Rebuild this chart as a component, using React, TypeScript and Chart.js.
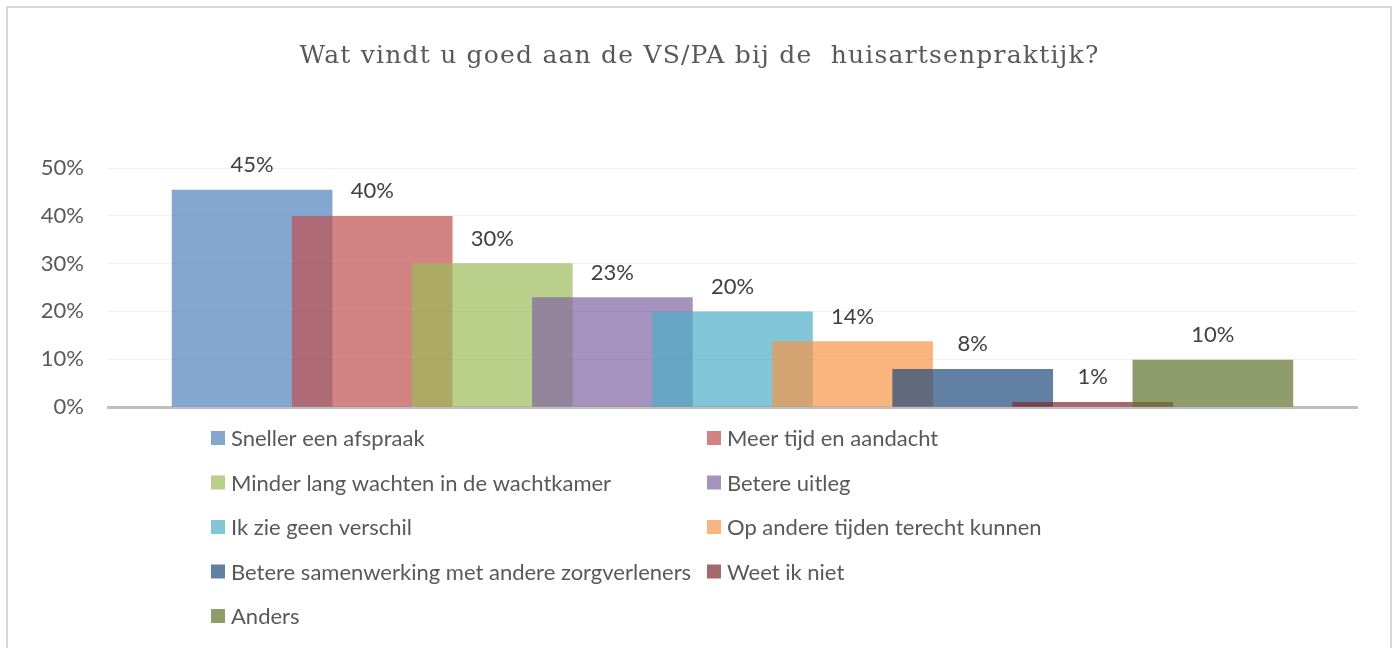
import React, { useEffect, useRef } from 'react';
import { Chart, registerables } from 'chart.js';

Chart.register(...registerables);

const TITLE = 'Wat vindt u goed aan de VS/PA bij de  huisartsenpraktijk?';

const seriesLabels = [
  'Sneller een afspraak',
  'Meer tijd en aandacht',
  'Minder lang wachten in de wachtkamer',
  'Betere uitleg',
  'Ik zie geen verschil',
  'Op andere tijden terecht kunnen',
  'Betere samenwerking met andere zorgverleners',
  'Weet ik niet',
  'Anders',
];

const seriesValues = [45.4, 39.9, 30.0, 22.9, 19.9, 13.7, 7.9, 1.0, 9.8];

const seriesColors = [
  'rgba(79,129,189,0.7)',
  'rgba(192,80,77,0.7)',
  'rgba(155,187,89,0.7)',
  'rgba(128,100,162,0.7)',
  'rgba(75,172,198,0.7)',
  'rgba(247,150,70,0.7)',
  'rgba(31,73,125,0.7)',
  'rgba(130,40,45,0.7)',
  'rgba(94,114,44,0.7)',
];

const yTickValues = [0, 10, 20, 30, 40, 50];

const FONT = 'Lato';
const TEXT_COLOR = '#595959';

const titlePlugin = {
  id: 'customTitle',
  afterDraw(chart: any) {
    const ctx = chart.ctx;
    ctx.save();
    ctx.font = '25px "DejaVu Serif"';
    (ctx as any).letterSpacing = '1.2px';
    ctx.fillStyle = TEXT_COLOR;
    ctx.textAlign = 'center';
    ctx.textBaseline = 'alphabetic';
    ctx.fillText(TITLE, chart.width / 2, 63);
    ctx.restore();
  },
};

const dataLabelPlugin = {
  id: 'dataLabels',
  afterDatasetsDraw(chart: any) {
    const ctx = chart.ctx;
    ctx.save();
    ctx.font = `22px ${FONT}`;
    ctx.fillStyle = '#404040';
    ctx.textAlign = 'center';
    ctx.textBaseline = 'middle';
    chart.data.datasets.forEach((ds: any, i: number) => {
      const meta = chart.getDatasetMeta(i);
      meta.data.forEach((el: any, j: number) => {
        const v = ds.data[j].y;
        ctx.fillText(Math.round(v) + '%', el.x, el.y - 25);
      });
    });
    ctx.restore();
  },
};

const legendPlugin = {
  id: 'gridLegend',
  afterDraw(chart: any) {
    const ctx = chart.ctx;
    const area = chart.chartArea;
    ctx.save();
    ctx.font = `22px ${FONT}`;
    ctx.textAlign = 'left';
    ctx.textBaseline = 'middle';
    chart.data.datasets.forEach((ds: any, i: number) => {
      const col = i % 2;
      const row = Math.floor(i / 2);
      const x = area.left + 103 + col * 496;
      const y = area.bottom + 31 + row * 44.5;
      ctx.fillStyle = ds.backgroundColor;
      ctx.fillRect(x, y - 7, 14, 14);
      ctx.fillStyle = TEXT_COLOR;
      ctx.fillText(ds.label, x + 20, y + 1);
    });
    ctx.restore();
  },
};

export default function App() {
  const canvasRef = useRef<HTMLCanvasElement | null>(null);

  useEffect(() => {
    if (!canvasRef.current) return;
    const n = seriesLabels.length;
    const chart = new Chart(canvasRef.current, {
      type: 'bar',
      data: {
        datasets: seriesLabels.map((label, i) => ({
          label,
          data: [{ x: i, y: seriesValues[i] }],
          backgroundColor: seriesColors[i],
          borderWidth: 0,
          order: n - i,
          grouped: false,
          barThickness: 160,
        })),
      },
      options: {
        responsive: false,
        animation: false,
        devicePixelRatio: 1,
        layout: { padding: { left: 0, right: 42, top: 168, bottom: 241 } },
        plugins: {
          legend: { display: false },
          title: { display: false },
          tooltip: { enabled: false },
        },
        scales: {
          x: {
            type: 'linear',
            min: -1.2,
            max: 9.2,
            offset: false,
            ticks: { display: false },
            grid: { display: false, drawTicks: false, offset: false },
            border: { display: true, color: '#bfbfbf', width: 3 },
            afterFit: (s: any) => {
              s.height = 0;
            },
          },
          y: {
            min: 0,
            max: 50,
            afterBuildTicks: (s: any) => {
              s.ticks = yTickValues.map((v) => ({ value: v }));
            },
            ticks: {
              callback: (v: any) => v + '%',
              font: { family: FONT, size: 22 },
              color: TEXT_COLOR,
              padding: 24,
            },
            grid: { color: '#efefef', lineWidth: 1, drawTicks: false },
            border: { display: false },
            afterFit: (s: any) => {
              s.width = 108;
            },
          },
        },
      } as any,
      plugins: [titlePlugin, dataLabelPlugin, legendPlugin],
    });
    return () => chart.destroy();
  }, []);

  return (
    <div style={{ position: 'absolute', left: 0, top: 0, width: 1399, height: 648, overflow: 'hidden', background: '#fff' }}>
      <div
        style={{
          position: 'absolute',
          left: 6,
          top: 6,
          width: 1386,
          height: 700,
          boxSizing: 'border-box',
          border: '2px solid #d9d9d9',
        }}
      />
      <canvas ref={canvasRef} width={1399} height={648} style={{ position: 'absolute', left: 0, top: 0 }} />
    </div>
  );
}
